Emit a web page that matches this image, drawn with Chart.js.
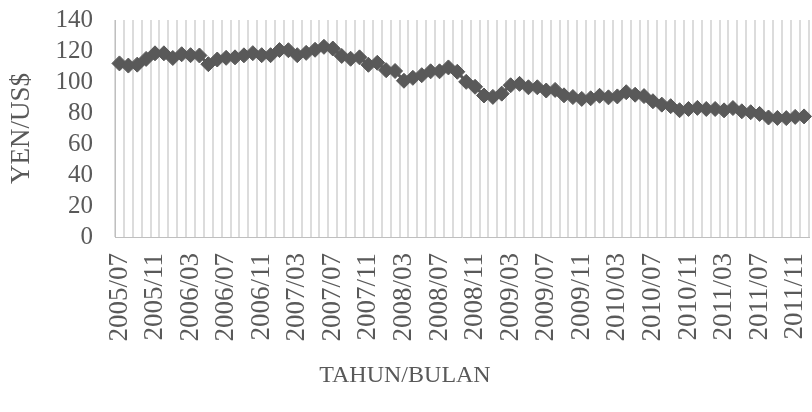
<!DOCTYPE html>
<html>
<head>
<meta charset="utf-8">
<script src="https://cdn.jsdelivr.net/npm/chart.js@4/dist/chart.umd.min.js"></script>
<style>
  html, body { margin: 0; padding: 0; background: #ffffff; overflow: hidden; width: 812px; height: 412px; }
  #wrap { position: absolute; left: -7px; top: 0; width: 824px; height: 412px; }
</style>
</head>
<body>
<div id="wrap"><canvas id="chart"></canvas></div>
<script>
// Monthly periods, 2005/07 – 2011/12
const months = [
  '2005/07','2005/08','2005/09','2005/10','2005/11','2005/12',
  '2006/01','2006/02','2006/03','2006/04','2006/05','2006/06','2006/07','2006/08','2006/09','2006/10','2006/11','2006/12',
  '2007/01','2007/02','2007/03','2007/04','2007/05','2007/06','2007/07','2007/08','2007/09','2007/10','2007/11','2007/12',
  '2008/01','2008/02','2008/03','2008/04','2008/05','2008/06','2008/07','2008/08','2008/09','2008/10','2008/11','2008/12',
  '2009/01','2009/02','2009/03','2009/04','2009/05','2009/06','2009/07','2009/08','2009/09','2009/10','2009/11','2009/12',
  '2010/01','2010/02','2010/03','2010/04','2010/05','2010/06','2010/07','2010/08','2010/09','2010/10','2010/11','2010/12',
  '2011/01','2011/02','2011/03','2011/04','2011/05','2011/06','2011/07','2011/08','2011/09','2011/10','2011/11','2011/12'
];

// Exchange rate, yen per US dollar
const yenPerUsd = [
  112.0, 110.6, 111.2, 114.9, 118.5, 118.5,
  115.5, 117.9, 117.3, 117.1, 111.5, 114.5, 115.6, 115.9, 117.2, 118.6, 117.3, 117.3,
  120.6, 120.5, 117.3, 118.8, 120.8, 122.7, 121.6, 116.8, 115.0, 115.9, 111.1, 112.4,
  107.6, 107.1, 100.8, 102.7, 104.4, 106.9, 106.9, 109.4, 106.6, 100.1, 96.9, 91.3,
  90.4, 92.5, 97.9, 98.8, 96.6, 96.6, 94.5, 94.9, 91.4, 90.3, 89.1, 89.5,
  91.1, 90.1, 90.7, 93.4, 91.8, 90.9, 87.6, 85.4, 84.4, 81.8, 82.6, 83.3,
  82.6, 82.6, 81.7, 83.2, 81.1, 80.5, 79.4, 77.1, 76.8, 76.7, 77.5, 77.8
];

// Axis tick values and labelling interval
const yTicks = [0, 20, 40, 60, 80, 100, 120, 140];
const labelEvery = 4;

const ink = '#595959';
const serif = 'Liberation Serif, "Times New Roman", serif';

new Chart(document.getElementById('chart'), {
  type: 'line',
  data: {
    labels: months,
    datasets: [{
      label: 'YEN/US$',
      data: yenPerUsd,
      borderColor: ink,
      backgroundColor: ink,
      borderWidth: 3,
      tension: 0,
      pointStyle: 'rectRot',
      pointRadius: 7.5,
      pointBorderWidth: 1,
      pointBackgroundColor: ink,
      pointBorderColor: ink
    }]
  },
  options: {
    responsive: true,
    maintainAspectRatio: false,
    animation: false,
    layout: { padding: { left: 0, right: 0, top: 20, bottom: 0 } },
    plugins: {
      legend: { display: false },
      tooltip: { enabled: false },
      title: {
        display: true,
        position: 'bottom',
        text: 'TAHUN/BULAN',
        color: ink,
        font: { family: serif, size: 24, weight: 'normal', lineHeight: 1.2 },
        padding: { top: 0, bottom: 21.6 }
      }
    },
    scales: {
      x: {
        type: 'category',
        offset: true,
        grid: { offset: true, color: '#dcdcdc', lineWidth: 2, drawTicks: false },
        border: { color: '#bfbfbf', width: 1 },
        ticks: {
          autoSkip: false,
          minRotation: 90,
          maxRotation: 90,
          padding: 16,
          color: ink,
          font: { family: serif, size: 27 },
          callback: (v, i) => (i % labelEvery === 0 ? months[i] : '')
        },
        afterFit: s => { s.height = 124.6; s.paddingLeft = 0; s.paddingRight = 0; }
      },
      y: {
        min: yTicks[0],
        max: yTicks[yTicks.length - 1],
        grid: { display: false, drawTicks: false },
        border: { display: true, color: '#bfbfbf', width: 1 },
        ticks: {
          autoSkip: false,
          stepSize: yTicks[1] - yTicks[0],
          padding: 22,
          color: ink,
          font: { family: serif, size: 25 }
        },
        title: {
          display: true,
          text: 'YEN/US$',
          color: ink,
          font: { family: serif, size: 27, lineHeight: 1.2 },
          padding: { top: 12.8, bottom: 0 }
        },
        afterFit: s => { s.width = 122; s.paddingTop = 0; s.paddingBottom = 0; }
      }
    }
  }
});
</script>
</body>
</html>
